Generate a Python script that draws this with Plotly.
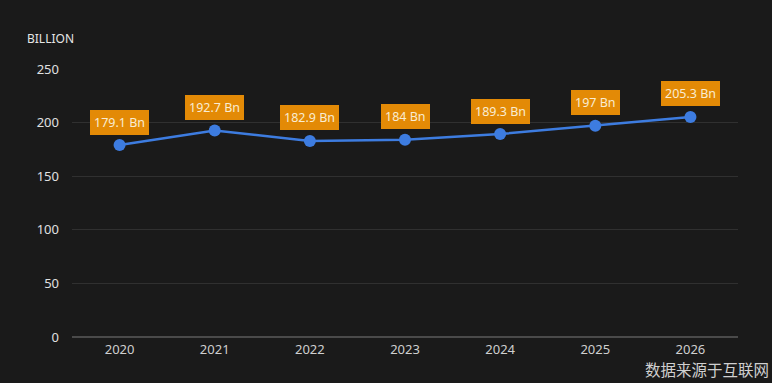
import plotly.graph_objects as go

years = ["2020", "2021", "2022", "2023", "2024", "2025", "2026"]
values = [179.1, 192.7, 182.9, 184, 189.3, 197, 205.3]
labels = ["179.1 Bn", "192.7 Bn", "182.9 Bn", "184 Bn", "189.3 Bn", "197 Bn", "205.3 Bn"]
y_ticks = [0, 50, 100, 150, 200, 250]

fig = go.Figure()
fig.add_trace(go.Scatter(
    x=years, y=values, mode="lines+markers",
    line=dict(color="#3d7ce0", width=2.5),
    marker=dict(color="#3d7ce0", size=12),
    hoverinfo="skip",
))

for i, (y, t) in enumerate(zip(values, labels)):
    fig.add_annotation(
        x=i, y=y, xref="x", yref="y", text=t, showarrow=False, yshift=23,
        bgcolor="#e38a06", bordercolor="#e38a06", borderpad=3, borderwidth=1,
        font=dict(family="Noto Sans", size=12.5, color="#f9ecd2"),
    )

fig.add_annotation(
    xref="paper", yref="paper", x=-0.07, y=1.075, xanchor="left", yanchor="bottom",
    text="BILLION", showarrow=False,
    font=dict(family="Noto Sans", size=12, color="#e6e6e6"),
)
fig.add_annotation(
    xref="paper", yref="paper", x=1.05, y=-0.12, xanchor="right", yanchor="middle",
    text="数据来源于互联网", showarrow=False,
    font=dict(family="Noto Sans CJK SC", size=15.5, color="#d0d0d0"),
)

fig.update_layout(
    width=772, height=383,
    margin=dict(l=72, r=34, t=69, b=46),
    paper_bgcolor="#1a1a1a", plot_bgcolor="#1a1a1a",
    showlegend=False,
    xaxis=dict(type="category", range=[-0.5, 6.5], showgrid=False, zeroline=False,
               showline=False, ticks="", ticklabelstandoff=3,
               tickfont=dict(family="Noto Sans", size=13, color="#cfcfcf")),
    yaxis=dict(range=[0, 250], tickvals=y_ticks, showgrid=True, gridcolor="#303030",
               gridwidth=1, zeroline=True, zerolinecolor="#4a4a4a", zerolinewidth=1.5,
               ticks="", ticklabelstandoff=12,
               tickfont=dict(family="Noto Sans", size=13, color="#e0e0e0")),
)

fig.write_html("out.html", config={"displayModeBar": False},
               post_script="document.body.style.margin='0';document.body.style.background='#1a1a1a';")
